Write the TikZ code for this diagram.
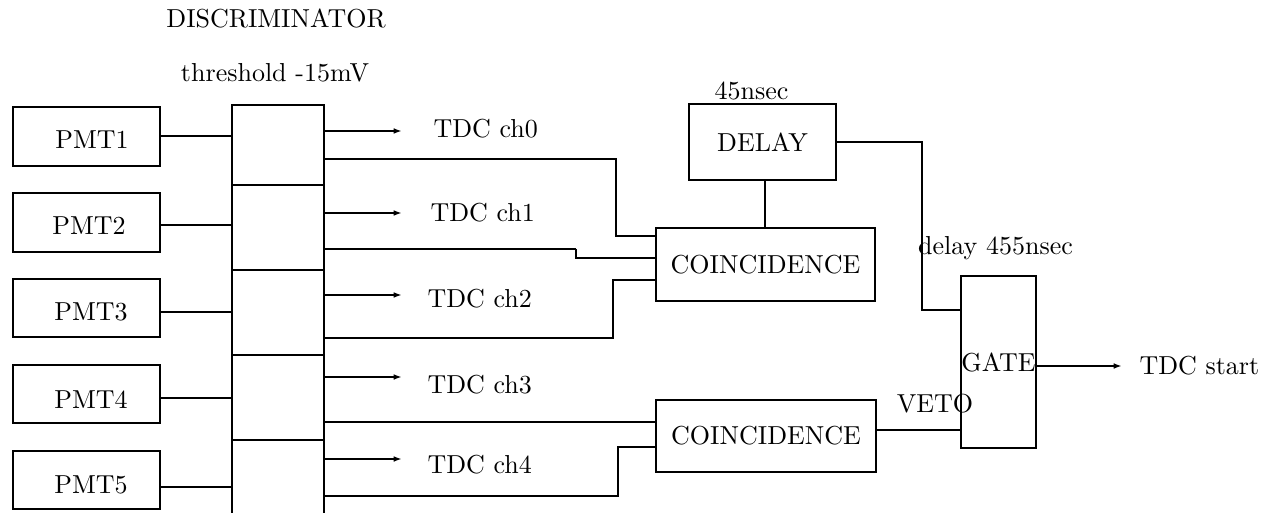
\documentclass[tikz,border=0pt]{standalone}
\usetikzlibrary{arrows.meta}
\begin{document}
\begin{tikzpicture}[x=0.3846pt,y=-0.3846pt,
  font=\fontsize{10}{12}\selectfont,
  bx/.style 2 args={draw, rectangle, inner sep=0pt, line width=0.85pt,
     minimum width=#1*0.3846pt, minimum height=#2*0.3846pt},
  cell/.style={draw, rectangle, inner sep=0pt, line width=1pt,
     minimum width=92*0.3846pt, minimum height=#1*0.3846pt},
  lbl/.style={anchor=base, inner sep=0pt},
  lblw/.style={anchor=base west, inner sep=0pt},
  wire/.style={line width=0.7pt},
  wthick/.style={line width=1.15pt},
  sig/.style={line width=0.7pt, -{Latex[length=3.2pt,width=2.2pt]}}
]
\useasboundingbox (0,0) rectangle (1273,513);

% PMT boxes
\node[bx={147}{59}] (p1) at (86.5,136.5) {};
\node[bx={147}{59}] (p2) at (86.5,222.5) {};
\node[bx={147}{58}] (p3) at (86.5,308) {};
\node[bx={147}{58}] (p4) at (86.5,394) {};
\node[bx={147}{58}] (p5) at (86.5,480) {};
\node[lbl] at (92,149) {PMT1};
\node[lbl] at (89,234) {PMT2};
\node[lbl] at (91,320.5) {PMT3};
\node[lbl] at (91,408) {PMT4};
\node[lbl] at (91,493) {PMT5};

% discriminator cells
\node[cell=80] (d0) at (278,145) {};
\node[cell=85] (d1) at (278,227.5) {};
\node[cell=85] (d2) at (278,312.5) {};
\node[cell=85] (d3) at (278,397.5) {};
\node[cell=85] (d4) at (278,482.5) {};
\node[lbl] at (276,27.3) {DISCRIMINATOR};
\node[lbl] at (275,82) {threshold -15mV};

% PMT to discriminator
\draw[wire] (p1.east |- 0,136) -- (d0.west |- 0,136);
\draw[wthick] (p2.east |- 0,225) -- (d1.west |- 0,225);
\draw[wire] (p3.east |- 0,312) -- (d2.west |- 0,312);
\draw[wire] (p4.east |- 0,398) -- (d3.west |- 0,398);
\draw[wire] (p5.east |- 0,487) -- (d4.west |- 0,487);

% TDC channel outputs
\coordinate (a0) at (402,131);
\coordinate (a1) at (402,213);
\coordinate (a2) at (402,295);
\coordinate (a3) at (402,377);
\coordinate (a4) at (402,459);
\draw[sig] (d0.east |- a0) -- (a0);
\draw[sig] (d1.east |- a1) -- (a1);
\draw[sig] (d2.east |- a2) -- (a2);
\draw[sig] (d3.east |- a3) -- (a3);
\draw[sig] (d4.east |- a4) -- (a4);
\node[lblw] at (433,138) {TDC ch0};
\node[lblw] at (430,221) {TDC ch1};
\node[lblw] at (427,307) {TDC ch2};
\node[lblw] at (427,393) {TDC ch3};
\node[lblw] at (427,473) {TDC ch4};

% modules
\node[bx={147}{76}] (dl) at (762.5,142) {DELAY};
\node[lbl] at (751.5,100) {45nsec};
\node[bx={219}{73}] (c1) at (765.5,264.5) {COINCIDENCE};
\node[bx={220}{72}] (c2) at (766,436) {COINCIDENCE};
\node[bx={75}{172}] (g) at (998.5,362) {GATE};
\node[lbl] at (995.5,255) {delay 455nsec};
\node[lbl] at (935,412.7) {VETO};
\coordinate (ts) at (1122,366);
\node[lblw] at (1139,374) {TDC start};

% coincidence inputs
\draw[wire] (d0.east |- 0,159) -| (616,236) -- (c1.west |- 0,236);
\draw[wthick] (d1.east |- 0,249) -- (576,249);
\draw[wire] (576,249) -- (576,258) -- (c1.west |- 0,258);
\draw[line width=0.95pt] (d2.east |- 0,338) -| (613,280) -- (c1.west |- 0,280);
\draw[wire] (d3.east |- 0,422) -- (c2.west |- 0,422);
\draw[line width=0.95pt] (d4.east |- 0,496) -| (618,447) -- (c2.west |- 0,447);

% delay, veto, gate
\draw[wire] (dl.south -| 765,0) -- (c1.north -| 765,0);
\draw[wire] (dl.east |- 0,142) -| (922,310) -- (g.west |- 0,310);
\draw[wthick] (c2.east |- 0,430) -- (g.west |- 0,430);
\draw[sig] (g.east |- ts) -- (ts);
\end{tikzpicture}
\end{document}
